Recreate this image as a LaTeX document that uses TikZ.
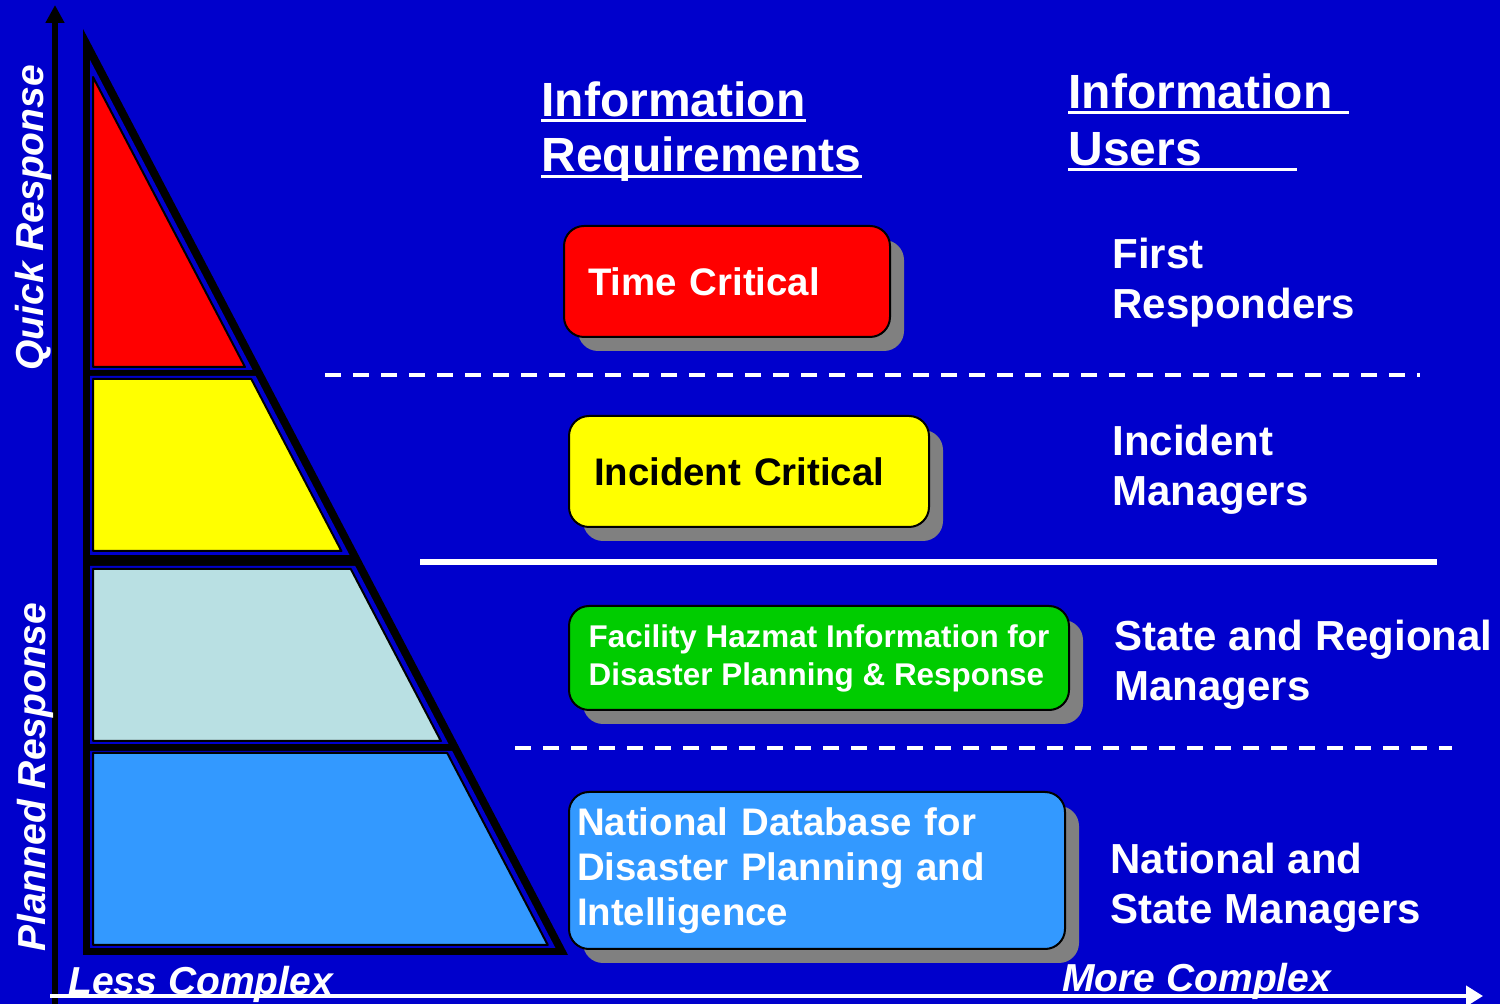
\documentclass[tikz,border=0pt]{standalone}
\usepackage{fontspec}
\setmainfont{Liberation Sans}
\usetikzlibrary{arrows.meta,shadows,calc}

\definecolor{bgblue}{RGB}{0,0,204}
\definecolor{tierred}{RGB}{255,0,0}
\definecolor{tieryellow}{RGB}{255,255,0}
\definecolor{tierpale}{RGB}{185,224,227}
\definecolor{tierblue}{RGB}{51,153,255}
\definecolor{boxgreen}{RGB}{0,204,0}
\definecolor{shadowgray}{RGB}{128,128,128}

\newcommand\hdrfont{\fontsize{24}{29}\selectfont\bfseries}
\newcommand\userfont{\fontsize{21}{25}\selectfont\bfseries}
\newcommand\axisfont{\fontsize{19.5}{23}\selectfont\bfseries\itshape}
\newcommand\boxfont{\fontsize{19.2}{23}\selectfont\bfseries}
\newcommand\hazfont{\fontsize{15.7}{19}\selectfont\bfseries}
\newcommand\dbfont{\fontsize{19.2}{22.5}\selectfont\bfseries}

\tikzset{
  tier/.style={draw=black, line width=1pt, line join=round},
  gap/.style={fill=bgblue},
  reqbox/.style={draw=black, line width=1pt, rounded corners=10pt, anchor=north west,
    inner ysep=0pt, align=left,
    drop shadow={shadow xshift=7pt, shadow yshift=-7pt, fill=shadowgray, opacity=1}},
  usertext/.style={text=white, anchor=north west, inner sep=0pt, align=left, font=\userfont},
  hdr/.style={text=white, anchor=base west, inner sep=0pt, font=\hdrfont},
  uline/.style={white, line width=1.5pt},
  axislabel/.style={text=white, anchor=base west, inner sep=0pt, font=\axisfont},
  divider/.style={white, line width=2pt, dash pattern=on 8pt off 6pt}
}

\begin{document}
\begin{tikzpicture}[x=0.5pt,y=0.5pt,yscale=-1,xscale=1]
%Shape: Background
\fill[bgblue] (0,0) rectangle (1500,1004);
\path[use as bounding box] (0,0) rectangle (1500,1004);

%Shape: Pyramid frame
\fill[black] (83,29) -- (83,955) -- (568,955) -- cycle;
\fill[gap] (90,60) -- (90,370) -- (252.6,370) -- cycle;
\fill[gap] (90,376) -- (90,555) -- (349.5,555) -- (255.7,376) -- cycle;
\fill[gap] (90,566) -- (90,744) -- (448.5,744) -- (355.2,566) -- cycle;
\fill[gap] (90,751) -- (90,948) -- (555.4,948) -- (452.2,751) -- cycle;

%Shape: Tiers
\filldraw[tier, fill=tierred] (93,77) -- (93,367) -- (245,367) -- cycle;
\filldraw[tier, fill=tieryellow] (93,379) -- (93,551) -- (341.4,551) -- (251.3,379) -- cycle;
\filldraw[tier, fill=tierpale] (93,569) -- (93,741) -- (440.9,741) -- (350.8,569) -- cycle;
\filldraw[tier, fill=tierblue] (93,753) -- (93,945) -- (547.8,945) -- (447.2,753) -- cycle;

%Straight Lines: axes
\draw[black, line width=3pt, -{Triangle[width=9pt,length=9pt]}] (55,1004) -- (55,5);
\draw[white, line width=2pt, -{Triangle[width=10pt,length=8.5pt]}] (50,996) -- (1483,996);

%Straight Lines: separators
\draw[divider] (325,375) -- (1420,375);
\draw[white, line width=3pt] (420,562) -- (1437,562);
\draw[divider] (515,748) -- (1452,748);

% Text Node: headers
\node[hdr] (irq1) at (541,117) {Information};
\node[hdr] (irq2) at (541,172) {Requirements};
\node[hdr] (iu1) at (1068,109) {Information};
\node[hdr] (iu2) at (1068,166) {Users};
\draw[uline] ($(irq1.base west)+(0,4)$) -- ($(irq1.base east)+(0,4)$);
\draw[uline] ($(irq2.base west)+(0,5)$) -- ($(irq2.base east)+(0,5)$);
\draw[uline] ($(iu1.base west)+(0,4)$) -- ($(iu1.base east)+(16,4)$);
\draw[uline] ($(iu2.base west)+(0,4)$) -- ($(iu2.base east)+(95,4)$);

% Text Node: requirement boxes
\node[reqbox, fill=tierred, text=white, font=\boxfont, inner xsep=12pt, text width=139pt, minimum height=55.5pt] (tc) at (563,225) {Time Critical};
\node[reqbox, fill=tieryellow, text=black, font=\boxfont, inner xsep=12.5pt, text width=155pt, minimum height=55.5pt] (ic) at (568,415) {Incident Critical};
\node[reqbox, fill=boxgreen, text=white, font=\hazfont, inner xsep=0pt, minimum width=250pt, minimum height=52pt] (fh) at (568,605) {Facility Hazmat Information for\\Disaster Planning \& Response};
\node[reqbox, fill=tierblue, text=white, font=\dbfont, inner xsep=4pt, text width=240pt, minimum height=78.5pt] (nd) at (568,791) {National Database for\\Disaster Planning and\\Intelligence};

% Text Node: users
\node[usertext] (fr) at (1112,238) {First\\Responders};
\node[usertext] (im) at (1112,425) {Incident\\Managers};
\node[usertext] (srm) at (1114,620) {State and Regional\\Managers};
\node[usertext] (nsm) at (1110,843) {National and\\State Managers};

% Text Node: axis labels
\node[axislabel, rotate=90] (qr) at (43,371) {Quick Response};
\node[axislabel, rotate=90] (pr) at (45,952) {Planned Response};
\node[axislabel] (lc) at (68,994) {Less Complex};
\node[axislabel] (mc) at (1062,992) {More Complex};

\end{tikzpicture}
\end{document}
